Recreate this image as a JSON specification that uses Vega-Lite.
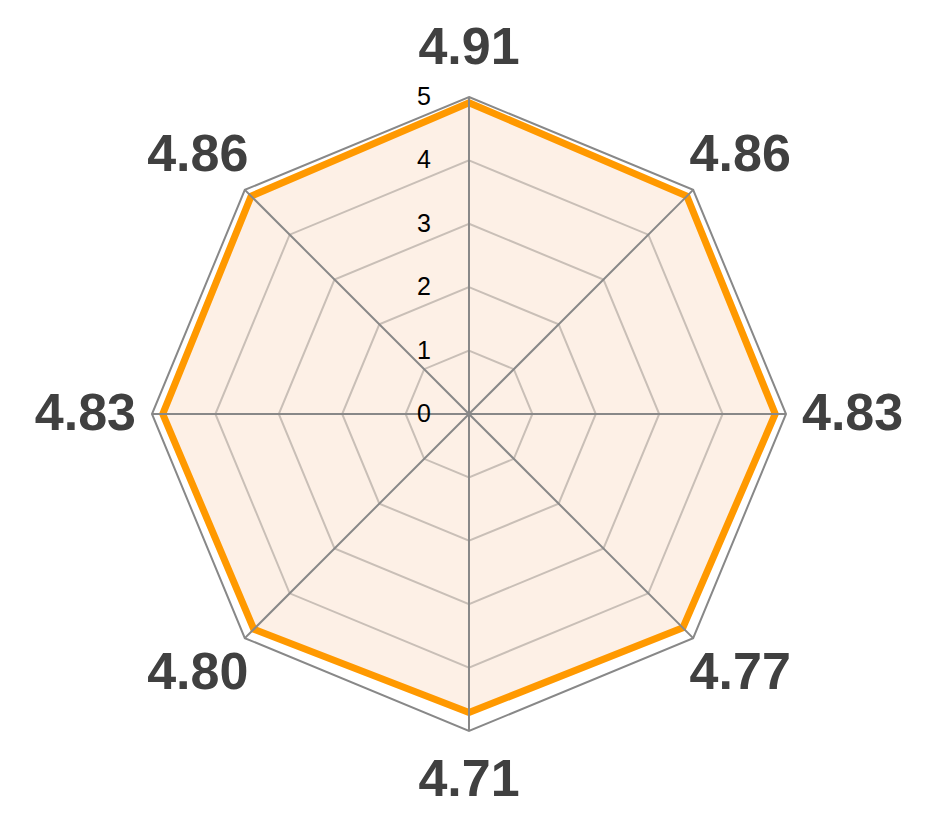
{
  "$schema": "https://vega.github.io/schema/vega-lite/v6.json",
  "width": 935,
  "height": 820,
  "autosize": {"type": "none"},
  "padding": 0,
  "background": "white",
  "config": {"view": {"stroke": null}},
  "datasets": {
    "axes": [
      {"idx": 0, "value": 4.91},
      {"idx": 1, "value": 4.86},
      {"idx": 2, "value": 4.83},
      {"idx": 3, "value": 4.77},
      {"idx": 4, "value": 4.71},
      {"idx": 5, "value": 4.80},
      {"idx": 6, "value": 4.83},
      {"idx": 7, "value": 4.86}
    ],
    "rings": [
      {"ring": 1, "idx": [0, 1, 2, 3, 4, 5, 6, 7]},
      {"ring": 2, "idx": [0, 1, 2, 3, 4, 5, 6, 7]},
      {"ring": 3, "idx": [0, 1, 2, 3, 4, 5, 6, 7]},
      {"ring": 4, "idx": [0, 1, 2, 3, 4, 5, 6, 7]},
      {"ring": 5, "idx": [0, 1, 2, 3, 4, 5, 6, 7]}
    ],
    "ticks": [
      {"tick": 0}, {"tick": 1}, {"tick": 2}, {"tick": 3}, {"tick": 4}, {"tick": 5}
    ]
  },
  "layer": [
    {
      "data": {"name": "axes"},
      "transform": [
        {"calculate": "datum.idx * PI / 4", "as": "a"},
        {"calculate": "datum.value * sin(datum.a)", "as": "px"},
        {"calculate": "datum.value * cos(datum.a)", "as": "py"}
      ],
      "mark": {"type": "line", "interpolate": "linear-closed", "fill": "#fdf0e6", "strokeWidth": 0},
      "encoding": {
        "x": {"field": "px", "type": "quantitative", "scale": {"domain": [-7.397, 7.35], "nice": false, "zero": false}, "axis": null},
        "y": {"field": "py", "type": "quantitative", "scale": {"domain": [-6.404, 6.53], "nice": false, "zero": false}, "axis": null},
        "order": {"field": "idx", "type": "quantitative"}
      }
    },
    {
      "data": {"name": "rings"},
      "transform": [
        {"flatten": ["idx"]},
        {"filter": "datum.ring < 5"},
        {"calculate": "datum.idx * PI / 4", "as": "a"},
        {"calculate": "datum.ring * sin(datum.a)", "as": "px"},
        {"calculate": "datum.ring * cos(datum.a)", "as": "py"}
      ],
      "mark": {"type": "line", "interpolate": "linear-closed", "stroke": "#c9bfb7", "strokeWidth": 2},
      "encoding": {
        "x": {"field": "px", "type": "quantitative"},
        "y": {"field": "py", "type": "quantitative"},
        "detail": {"field": "ring", "type": "nominal"},
        "order": {"field": "idx", "type": "quantitative"}
      }
    },
    {
      "data": {"name": "axes"},
      "transform": [
        {"calculate": "datum.idx * PI / 4", "as": "a"},
        {"calculate": "datum.value * sin(datum.a)", "as": "px"},
        {"calculate": "datum.value * cos(datum.a)", "as": "py"}
      ],
      "mark": {"type": "line", "interpolate": "linear-closed", "stroke": "#ff9900", "strokeWidth": 7, "strokeJoin": "miter"},
      "encoding": {
        "x": {"field": "px", "type": "quantitative"},
        "y": {"field": "py", "type": "quantitative"},
        "order": {"field": "idx", "type": "quantitative"}
      }
    },
    {
      "data": {"name": "rings"},
      "transform": [
        {"flatten": ["idx"]},
        {"filter": "datum.ring == 5"},
        {"calculate": "datum.idx * PI / 4", "as": "a"},
        {"calculate": "datum.ring * sin(datum.a)", "as": "px"},
        {"calculate": "datum.ring * cos(datum.a)", "as": "py"}
      ],
      "mark": {"type": "line", "interpolate": "linear-closed", "stroke": "#888888", "strokeWidth": 2},
      "encoding": {
        "x": {"field": "px", "type": "quantitative"},
        "y": {"field": "py", "type": "quantitative"},
        "detail": {"field": "ring", "type": "nominal"},
        "order": {"field": "idx", "type": "quantitative"}
      }
    },
    {
      "data": {"name": "axes"},
      "transform": [
        {"calculate": "datum.idx * PI / 4", "as": "a"},
        {"calculate": "0", "as": "ox"},
        {"calculate": "0", "as": "oy"},
        {"calculate": "5 * sin(datum.a)", "as": "ex"},
        {"calculate": "5 * cos(datum.a)", "as": "ey"}
      ],
      "mark": {"type": "rule", "stroke": "#888888", "strokeWidth": 2},
      "encoding": {
        "x": {"field": "ox", "type": "quantitative"},
        "y": {"field": "oy", "type": "quantitative"},
        "x2": {"field": "ex"},
        "y2": {"field": "ey"}
      }
    },
    {
      "data": {"name": "ticks"},
      "transform": [
        {"calculate": "0", "as": "ox"}
      ],
      "mark": {"type": "text", "align": "right", "baseline": "middle", "fontSize": 25, "font": "Liberation Sans", "color": "#000000", "dx": -38},
      "encoding": {
        "x": {"field": "ox", "type": "quantitative"},
        "y": {"field": "tick", "type": "quantitative"},
        "text": {"field": "tick", "type": "quantitative"}
      }
    },
    {
      "data": {"name": "axes"},
      "transform": [
        {"calculate": "datum.idx * PI / 4", "as": "a"},
        {"calculate": "6.05 * sin(datum.a)", "as": "lx"},
        {"calculate": "5.78 * cos(datum.a)", "as": "ly"}
      ],
      "mark": {"type": "text", "align": "center", "baseline": "middle", "fontSize": 52, "fontWeight": "bold", "font": "Liberation Sans", "color": "#404040"},
      "encoding": {
        "x": {"field": "lx", "type": "quantitative"},
        "y": {"field": "ly", "type": "quantitative"},
        "text": {"field": "value", "type": "quantitative", "format": ".2f"}
      }
    }
  ]
}
